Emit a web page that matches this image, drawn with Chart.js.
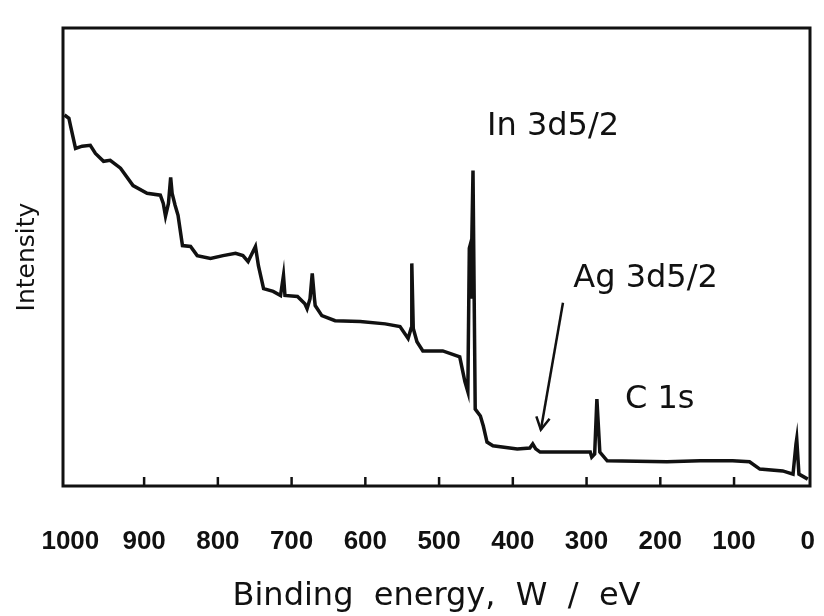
<!DOCTYPE html>
<html lang="en">
<head>
    <meta charset="UTF-8">
    <title>XPS survey spectrum</title>
    <script src="https://cdn.jsdelivr.net/npm/chart.js"></script>
    <style>
        body {
            margin: 0;
            background: #ffffff;
        }
        canvas {
            display: block;
        }
    </style>
</head>
<body>
    <canvas id="xpsChart" width="824" height="616"></canvas>
    <script>
        // Survey spectrum (binding energy in eV, intensity in arbitrary units)
        const energy = [1008, 1002, 1000, 993, 984, 973, 966, 955, 946, 932, 915, 896, 878, 874, 871, 867, 864, 862, 858, 854,
            848, 837, 828, 810, 793, 776, 766, 759, 749, 745, 738, 725, 715, 711, 709, 692, 682, 679, 675, 672,
            669, 668, 659, 641, 607, 573, 553, 542, 538, 537, 535, 530, 522, 495, 472, 465, 461, 459, 458, 457,
            454, 451, 444, 440, 435, 427, 394, 377, 373, 369, 363, 295, 293, 289, 286, 282, 272, 191, 146, 102,
            79, 65, 34, 20, 16, 15, 12, 0];
        const intensity = [81.0, 80.3, 78.8, 73.7, 74.2, 74.4, 72.6, 70.9, 71.1, 69.4, 65.6, 63.9, 63.5, 61.7, 58.9, 61.7, 67.4, 63.9, 61.3, 59.1,
            52.5, 52.3, 50.3, 49.7, 50.3, 50.8, 50.3, 49.0, 52.3, 48.1, 43.1, 42.5, 41.6, 46.0, 41.6, 41.4, 39.8, 38.7, 40.9, 46.4,
            40.9, 39.4, 37.2, 36.1, 35.9, 35.4, 34.8, 32.2, 34.4, 48.6, 34.4, 31.5, 29.5, 29.5, 28.2, 22.8, 20.6, 51.9, 52.5, 40.9,
            68.9, 16.8, 15.3, 13.1, 9.6, 8.8, 8.1, 8.3, 9.2, 8.1, 7.4, 7.4, 6.3, 7.0, 19.0, 7.4, 5.5, 5.3, 5.5, 5.5,
            5.3, 3.7, 3.3, 2.6, 9.2, 10.3, 2.6, 1.5];
        const xTicks = [0, 100, 200, 300, 400, 500, 600, 700, 800, 900, 1000];

        // Peak labels, anchored in data coordinates
        const peakLabels = ['In 3d5/2', 'Ag 3d5/2', 'C 1s'];
        const peakLabelX = [435, 318, 248];
        const peakLabelY = [76.6, 43.4, 17.0];

        // Arrow pointing at the Ag peak: [tail, tip]
        const arrowX = [332, 362];
        const arrowY = [40.0, 12.3];

        const spectrum = energy.map((e, i) => ({ x: e, y: intensity[i] }));

        // frame, inward ticks, labels and arrow
        const decorations = {
            id: 'decorations',
            afterDraw(chart) {
                const ctx = chart.ctx;
                const area = chart.chartArea;
                const xs = chart.scales.x;
                const ys = chart.scales.y;
                ctx.save();
                ctx.strokeStyle = '#111';
                ctx.lineWidth = 3;
                ctx.strokeRect(area.left, area.top, area.right - area.left, area.bottom - area.top);

                ctx.lineWidth = 2.5;
                xTicks.forEach(v => {
                    if (v === 0 || v === 1000) return;
                    const px = xs.getPixelForValue(v);
                    ctx.beginPath();
                    ctx.moveTo(px, area.bottom);
                    ctx.lineTo(px, area.bottom - 9);
                    ctx.stroke();
                });

                ctx.fillStyle = '#111';
                ctx.font = '32px "DejaVu Sans"';
                ctx.textAlign = 'left';
                ctx.textBaseline = 'alphabetic';
                peakLabels.forEach((t, i) => {
                    ctx.fillText(t, xs.getPixelForValue(peakLabelX[i]), ys.getPixelForValue(peakLabelY[i]));
                });

                const x0 = xs.getPixelForValue(arrowX[0]), y0 = ys.getPixelForValue(arrowY[0]);
                const x1 = xs.getPixelForValue(arrowX[1]), y1 = ys.getPixelForValue(arrowY[1]);
                ctx.lineWidth = 2.5;
                ctx.beginPath();
                ctx.moveTo(x0, y0);
                ctx.lineTo(x1, y1);
                ctx.stroke();
                const ang = Math.atan2(y1 - y0, x1 - x0);
                const head = 14;
                ctx.beginPath();
                ctx.moveTo(x1 - head * Math.cos(ang - 0.5), y1 - head * Math.sin(ang - 0.5));
                ctx.lineTo(x1, y1);
                ctx.lineTo(x1 - head * Math.cos(ang + 0.5), y1 - head * Math.sin(ang + 0.5));
                ctx.stroke();
                ctx.restore();
            }
        };

        new Chart(document.getElementById('xpsChart'), {
            type: 'line',
            data: {
                datasets: [{
                    data: spectrum,
                    borderColor: '#111',
                    borderWidth: 3.5,
                    pointRadius: 0,
                    tension: 0,
                    fill: false
                }]
            },
            options: {
                responsive: false,
                animation: false,
                layout: {
                    padding: { top: 28, right: 14, bottom: 0, left: 8 }
                },
                plugins: {
                    legend: { display: false },
                    tooltip: { enabled: false }
                },
                scales: {
                    x: {
                        type: 'linear',
                        reverse: true,
                        min: -3,
                        max: 1010,
                        afterBuildTicks: scale => {
                            scale.ticks = xTicks.map(v => ({ value: v }));
                        },
                        afterFit: scale => {
                            scale.height = 130;
                        },
                        grid: { display: false, drawTicks: false },
                        border: { display: false },
                        ticks: {
                            color: '#111',
                            padding: 40,
                            maxRotation: 0,
                            autoSkip: false,
                            callback: value => String(value),
                            font: { family: '"Liberation Sans"', size: 26, weight: 'bold' }
                        },
                        title: {
                            display: true,
                            text: 'Binding  energy,  W  /  eV',
                            color: '#111',
                            padding: { top: 0, bottom: 0 },
                            font: { family: '"DejaVu Sans"', size: 32 }
                        }
                    },
                    y: {
                        min: 0,
                        max: 100,
                        afterFit: scale => {
                            scale.width = 55;
                        },
                        grid: { display: false, drawTicks: false },
                        border: { display: false },
                        ticks: { display: false },
                        title: {
                            display: true,
                            text: 'Intensity',
                            color: '#111',
                            padding: { top: 4, bottom: 18 },
                            font: { family: '"DejaVu Sans"', size: 25 }
                        }
                    }
                }
            },
            plugins: [decorations]
        });
    </script>
</body>
</html>
